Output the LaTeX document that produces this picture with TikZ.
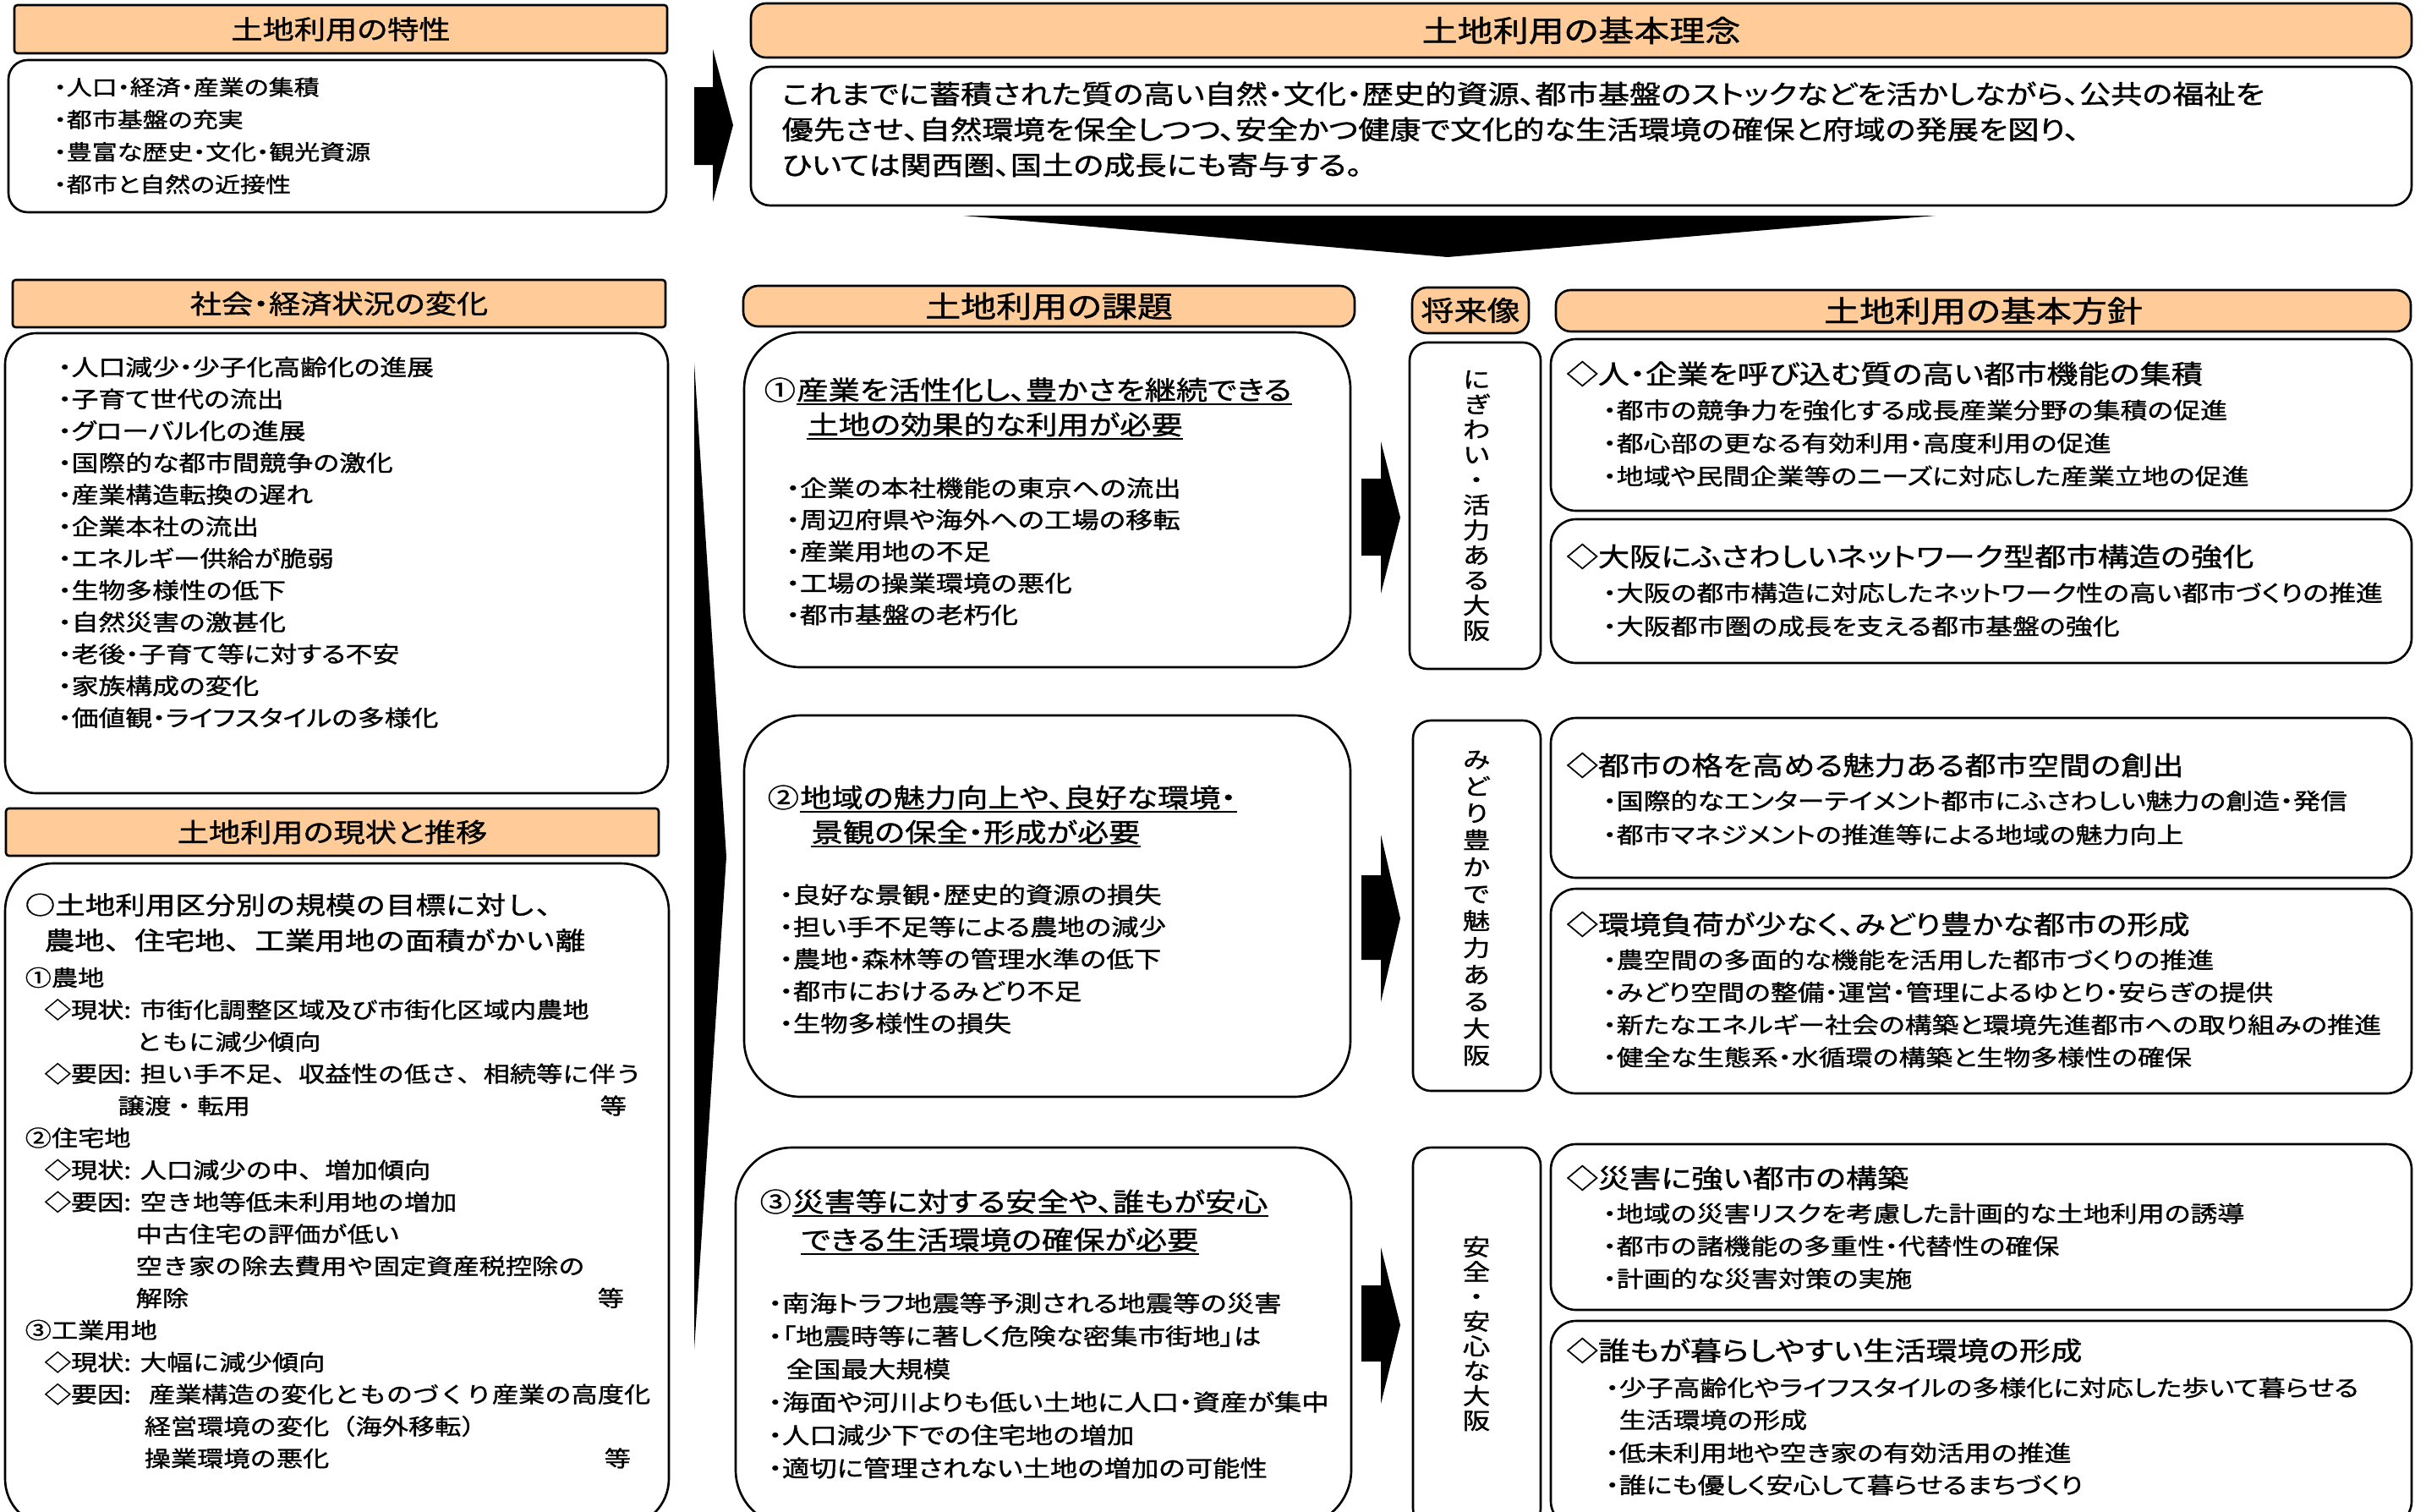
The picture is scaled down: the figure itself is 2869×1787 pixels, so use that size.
\documentclass[tikz,border=0pt]{standalone}
\usepackage{fontspec}
\usetikzlibrary{fit}
\newfontfamily\jp{Noto Sans CJK JP}[RawFeature={+palt},FakeStretch=1.2,FakeBold=1.2]
\newfontfamily\jpm{Noto Sans CJK JP}[FakeStretch=1.2,FakeBold=1.2]
\definecolor{hdr}{HTML}{FFCC99}
\newcommand\cln[1]{\makebox[#1][l]{:}}
\begin{document}
\begin{tikzpicture}[x=0.01cm,y=-0.01cm,
  bx/.style={draw=black, line width=0.75pt, inner sep=0pt, fill=white},
  hb/.style={bx, fill=hdr},
  tx/.style={inner sep=0pt, anchor=west},
  ul/.style={line width=0.6pt},
  f25/.style={font=\jp\fontsize{7.11pt}{8pt}\selectfont, text height=6.26pt, text depth=0.85pt},
  f265/.style={font=\jp\fontsize{7.54pt}{8pt}\selectfont, text height=6.64pt, text depth=0.90pt},
  f27/.style={font=\jp\fontsize{7.68pt}{8pt}\selectfont, text height=6.76pt, text depth=0.92pt},
  f266/.style={font=\jp\fontsize{7.57pt}{8pt}\selectfont, text height=6.66pt, text depth=0.91pt},
  f31/.style={font=\jp\fontsize{8.82pt}{10pt}\selectfont, text height=7.76pt, text depth=1.06pt},
  f325/.style={font=\jp\fontsize{9.25pt}{10pt}\selectfont, text height=8.14pt, text depth=1.11pt},
  f35/.style={font=\jp\fontsize{9.96pt}{11pt}\selectfont, text height=8.76pt, text depth=1.20pt},
  m26/.style={font=\jpm\fontsize{7.40pt}{8pt}\selectfont, text height=6.51pt, text depth=0.89pt},
  m296/.style={font=\jpm\fontsize{8.42pt}{9pt}\selectfont, text height=7.41pt, text depth=1.01pt},
  vt/.style={font=\jp\fontsize{7.68pt}{#1}\selectfont, align=center, inner sep=0pt},
  arr/.style={fill=black}
]
\useasboundingbox (0,0) rectangle (2869,1787);
\clip (0,0) rectangle (2869,1787);
\fill[white] (0,0) rectangle (2869,1787);

% ---------- headers ----------
\node[hb, rounded corners=1pt, fit={(17,6) (789,63)}] (h1) {};
\node[f31, inner sep=0pt] (h1t) at (h1.center) {土地利用の特性};
\node[hb, rounded corners=5pt, fit={(888,4) (2852,68)}] (h2) {};
\node[f35, inner sep=0pt] (h2t) at (h2.center) {土地利用の基本理念};
\node[hb, rounded corners=1pt, fit={(15,331) (787,387)}] (h3) {};
\node[f31, inner sep=0pt] (h3t) at (h3.center) {社会・経済状況の変化};
\node[hb, rounded corners=1pt, fit={(7,956) (779,1012)}] (h4) {};
\node[f31, inner sep=0pt] (h4t) at (h4.center) {土地利用の現状と推移};
\node[hb, rounded corners=5pt, fit={(879,338) (1602,386)}] (h5) {};
\node[f35, inner sep=0pt] (h5t) at (h5.center) {土地利用の課題};
\node[hb, rounded corners=5pt, fit={(1670,340) (1808,394)}] (h6) {};
\node[f325, inner sep=0pt] (h6t) at (h6.center) {将来像};
\node[hb, rounded corners=5pt, fit={(1840,343) (2851,392)}] (h7) {};
\node[f35, inner sep=0pt] (h7t) at (h7.center) {土地利用の基本方針};

% ---------- content boxes ----------
\node[bx, rounded corners=6.5pt, fit={(10,71) (788,251)}] (c1) {};
\node[bx, rounded corners=6.5pt, fit={(888,79) (2852,243)}] (c2) {};
\node[bx, rounded corners=10.5pt, fit={(6,394) (790,938)}] (c3) {};
\node[bx, rounded corners=16pt, fit={(6,1021) (791,1805)}] (c4) {};
\node[bx, rounded corners=19pt, fit={(880,393) (1597,789)}] (m1) {};
\node[bx, rounded corners=19pt, fit={(880,846) (1597,1297)}] (m2) {};
\node[bx, rounded corners=19pt, fit={(870,1357) (1598,1805)}] (m3) {};
\node[bx, rounded corners=6pt, fit={(1667,405) (1822,791)}] (v1) {};
\node[bx, rounded corners=6pt, fit={(1671,852) (1822,1290)}] (v2) {};
\node[bx, rounded corners=6pt, fit={(1671,1357) (1822,1805)}] (v3) {};
\node[bx, rounded corners=8.5pt, fit={(1834,401) (2852,604)}] (p1) {};
\node[bx, rounded corners=8.5pt, fit={(1834,614) (2852,784)}] (p2) {};
\node[bx, rounded corners=8.5pt, fit={(1834,849) (2852,1038)}] (p3) {};
\node[bx, rounded corners=8.5pt, fit={(1834,1051) (2852,1293)}] (p4) {};
\node[bx, rounded corners=8.5pt, fit={(1834,1353) (2852,1549)}] (p5) {};
\node[bx, rounded corners=8.5pt, fit={(1834,1562) (2852,1805)}] (p6) {};

% ---------- block arrows ----------
\fill[arr] (821,103) -- (843,103) -- (843,58) -- (867,148) -- (843,239) -- (843,195) -- (821,195) -- cycle;
\fill[arr] (1139,255) -- (2289,255) -- (1712,304) -- cycle;
\fill[arr] (821,429) -- (859,1013) -- (821,1596) -- cycle;
\fill[arr] (1610,566) -- (1633,566) -- (1633,522) -- (1656,612) -- (1633,702) -- (1633,657) -- (1610,657) -- cycle;
\fill[arr] (1610,1035) -- (1633,1035) -- (1633,987) -- (1656,1086) -- (1633,1185) -- (1633,1135) -- (1610,1135) -- cycle;
\fill[arr] (1610,1520) -- (1633,1520) -- (1633,1475) -- (1656,1567) -- (1633,1660) -- (1633,1610) -- (1610,1610) -- cycle;

% ---------- 土地利用の特性 ----------
\foreach \s [count=\i] in {・人口・経済・産業の集積, ・都市基盤の充実, ・豊富な歴史・文化・観光資源, ・都市と自然の近接性}
  \node[tx,f25] (c1t\i) at (63,{103+38.3*(\i-1)}) {\s};

% ---------- 基本理念 ----------
\node[tx,f31] (c2t1) at (924,111) {これまでに蓄積された質の高い自然・文化・歴史的資源、都市基盤のストックなどを活かしながら、公共の福祉を};
\node[tx,f31] (c2t2) at (924,153) {優先させ、自然環境を保全しつつ、安全かつ健康で文化的な生活環境の確保と府域の発展を図り、};
\node[tx,f31] (c2t3) at (924,195) {ひいては関西圏、国土の成長にも寄与する。};

% ---------- 社会・経済状況の変化 ----------
\foreach \s [count=\i] in {・人口減少・少子化高齢化の進展, ・子育て世代の流出, ・グローバル化の進展, ・国際的な都市間競争の激化, ・産業構造転換の遅れ, ・企業本社の流出, ・エネルギー供給が脆弱, ・生物多様性の低下, ・自然災害の激甚化, ・老後・子育て等に対する不安, ・家族構成の変化, ・価値観・ライフスタイルの多様化}
  \node[tx,f265] (c3t\i) at (68,{434+37.7*(\i-1)}) {\s};

% ---------- 土地利用の現状と推移 ----------
\node[tx,m296] (c4h1) at (29,1070) {○土地利用区分別の規模の目標に対し、};
\node[tx,m296] (c4h2) at (52,1112) {農地、住宅地、工業用地の面積がかい離};
\node[tx,m26] (c4a) at (29,{1156+37.9*0}) {①農地};
\node[tx,m26] (c4b) at (52,{1156+37.9*1}) {◇現状\cln{5.5pt}市街化調整区域及び市街化区域内農地};
\node[tx,m26] (c4c) at (160,{1156+37.9*2}) {ともに減少傾向};
\node[tx,m26] (c4d) at (52,{1156+37.9*3}) {◇要因\cln{5.5pt}担い手不足、収益性の低さ、相続等に伴う};
\node[tx,m26] (c4e) at (139,{1156+37.9*4}) {譲渡・転用};
\node[tx,m26] (c4e2) at (709,{1156+37.9*4}) {等};
\node[tx,m26] (c4f) at (29,{1156+37.9*5}) {②住宅地};
\node[tx,m26] (c4g) at (52,{1156+37.9*6}) {◇現状\cln{5.5pt}人口減少の中、増加傾向};
\node[tx,m26] (c4h) at (52,{1156+37.9*7}) {◇要因\cln{5.5pt}空き地等低未利用地の増加};
\node[tx,m26] (c4i) at (160,{1156+37.9*8}) {中古住宅の評価が低い};
\node[tx,m26] (c4j) at (160,{1156+37.9*9}) {空き家の除去費用や固定資産税控除の};
\node[tx,m26] (c4k) at (160,{1156+37.9*10}) {解除};
\node[tx,m26] (c4k2) at (706,{1156+37.9*10}) {等};
\node[tx,m26] (c4l) at (29,{1156+37.9*11}) {③工業用地};
\node[tx,m26] (c4m) at (52,{1156+37.9*12}) {◇現状\cln{5.5pt}大幅に減少傾向};
\node[tx,m26] (c4n) at (52,{1156+37.9*13}) {◇要因\cln{8.4pt}産業構造の変化とものづくり産業の高度化};
\node[tx,m26] (c4o) at (170,{1156+37.9*14}) {経営環境の変化（海外移転）};
\node[tx,m26] (c4p) at (170,{1156+37.9*15}) {操業環境の悪化};
\node[tx,m26] (c4p2) at (714,{1156+37.9*15}) {等};

% ---------- 土地利用の課題 ----------
\node[tx,f31] (m1n) at (903,461) {①};
\node[f31,inner sep=0pt,anchor=base west] (m1h) at (m1n.base east) {産業を活性化し、豊かさを継続できる};
\node[tx,f31] (m1h2) at (954,502) {土地の効果的な利用が必要};
\draw[ul] ([yshift=-1.5pt]m1h.base west) -- ([yshift=-1.5pt]m1h.base east);
\draw[ul] ([yshift=-1.5pt]m1h2.base west) -- ([yshift=-1.5pt]m1h2.base east);
\foreach \s [count=\i] in {・企業の本社機能の東京への流出, ・周辺府県や海外への工場の移転, ・産業用地の不足, ・工場の操業環境の悪化, ・都市基盤の老朽化}
  \node[tx,f27] (m1t\i) at (929,{577+37.5*(\i-1)}) {\s};

\node[tx,f31] (m2n) at (907,943) {②};
\node[f31,inner sep=0pt,anchor=base west] (m2h) at (m2n.base east) {地域の魅力向上や、良好な環境・};
\node[tx,f31] (m2h2) at (959,984) {景観の保全・形成が必要};
\draw[ul] ([yshift=-1.5pt]m2h.base west) -- ([yshift=-1.5pt]m2h.base east);
\draw[ul] ([yshift=-1.5pt]m2h2.base west) -- ([yshift=-1.5pt]m2h2.base east);
\foreach \s [count=\i] in {・良好な景観・歴史的資源の損失, ・担い手不足等による農地の減少, ・農地・森林等の管理水準の低下, ・都市におけるみどり不足, ・生物多様性の損失}
  \node[tx,f27] (m2t\i) at (921,{1058+38*(\i-1)}) {\s};

\node[tx,f31] (m3n) at (898,1421) {③};
\node[f31,inner sep=0pt,anchor=base west] (m3h) at (m3n.base east) {災害等に対する安全や、誰もが安心};
\node[tx,f31] (m3h2) at (947,1466) {できる生活環境の確保が必要};
\draw[ul] ([yshift=-1.5pt]m3h.base west) -- ([yshift=-1.5pt]m3h.base east);
\draw[ul] ([yshift=-1.5pt]m3h2.base west) -- ([yshift=-1.5pt]m3h2.base east);
\node[tx,f27] (m3t1) at (908,1541) {・南海トラフ地震等予測される地震等の災害};
\node[tx,f27] (m3t2) at (908,1580) {・「地震時等に著しく危険な密集市街地」は};
\node[tx,f27] (m3t3) at (929,1619) {全国最大規模};
\node[tx,f27] (m3t4) at (908,1658) {・海面や河川よりも低い土地に人口・資産が集中};
\node[tx,f27] (m3t5) at (908,1697) {・人口減少下での住宅地の増加};
\node[tx,f27] (m3t6) at (908,1736) {・適切に管理されない土地の増加の可能性};

% ---------- 将来像 ----------
\node[vt=8.45pt] (v1t) at (1746,598) {に\\ぎ\\わ\\い\\・\\活\\力\\あ\\る\\大\\阪};
\node[vt=9.05pt] (v2t) at (1746,1074) {み\\ど\\り\\豊\\か\\で\\魅\\力\\あ\\る\\大\\阪};
\node[vt=8.34pt] (v3t) at (1746,1577) {安\\全\\・\\安\\心\\な\\大\\阪};

% ---------- 基本方針 ----------
\node[tx,f31] (p1h) at (1852,442) {◇人・企業を呼び込む質の高い都市機能の集積};
\foreach \s [count=\i] in {・都市の競争力を強化する成長産業分野の集積の促進, ・都心部の更なる有効利用・高度利用の促進, ・地域や民間企業等のニーズに対応した産業立地の促進}
  \node[tx,f266] (p1t\i) at (1895,{485+39*(\i-1)}) {\s};

\node[tx,f31] (p2h) at (1852,658) {◇大阪にふさわしいネットワーク型都市構造の強化};
\foreach \s [count=\i] in {・大阪の都市構造に対応したネットワーク性の高い都市づくりの推進, ・大阪都市圏の成長を支える都市基盤の強化}
  \node[tx,f266] (p2t\i) at (1895,{701+39.5*(\i-1)}) {\s};

\node[tx,f31] (p3h) at (1852,905) {◇都市の格を高める魅力ある都市空間の創出};
\foreach \s [count=\i] in {・国際的なエンターテイメント都市にふさわしい魅力の創造・発信, ・都市マネジメントの推進等による地域の魅力向上}
  \node[tx,f266] (p3t\i) at (1895,{947+40*(\i-1)}) {\s};

\node[tx,f31] (p4h) at (1852,1093) {◇環境負荷が少なく、みどり豊かな都市の形成};
\foreach \s [count=\i] in {・農空間の多面的な機能を活用した都市づくりの推進, ・みどり空間の整備・運営・管理によるゆとり・安らぎの提供, ・新たなエネルギー社会の構築と環境先進都市への取り組みの推進, ・健全な生態系・水循環の構築と生物多様性の確保}
  \node[tx,f266] (p4t\i) at (1895,{1135+38.4*(\i-1)}) {\s};

\node[tx,f31] (p5h) at (1852,1393) {◇災害に強い都市の構築};
\foreach \s [count=\i] in {・地域の災害リスクを考慮した計画的な土地利用の誘導, ・都市の諸機能の多重性・代替性の確保, ・計画的な災害対策の実施}
  \node[tx,f266] (p5t\i) at (1895,{1435+38.5*(\i-1)}) {\s};

\node[tx,f31] (p6h) at (1852,1597) {◇誰もが暮らしやすい生活環境の形成};
\node[tx,f266] (p6t1) at (1898,1641) {・少子高齢化やライフスタイルの多様化に対応した歩いて暮らせる};
\node[tx,f266] (p6t2) at (1914,1679) {生活環境の形成};
\node[tx,f266] (p6t3) at (1898,1718) {・低未利用地や空き家の有効活用の推進};
\node[tx,f266] (p6t4) at (1898,1756) {・誰にも優しく安心して暮らせるまちづくり};
\end{tikzpicture}
\end{document}
